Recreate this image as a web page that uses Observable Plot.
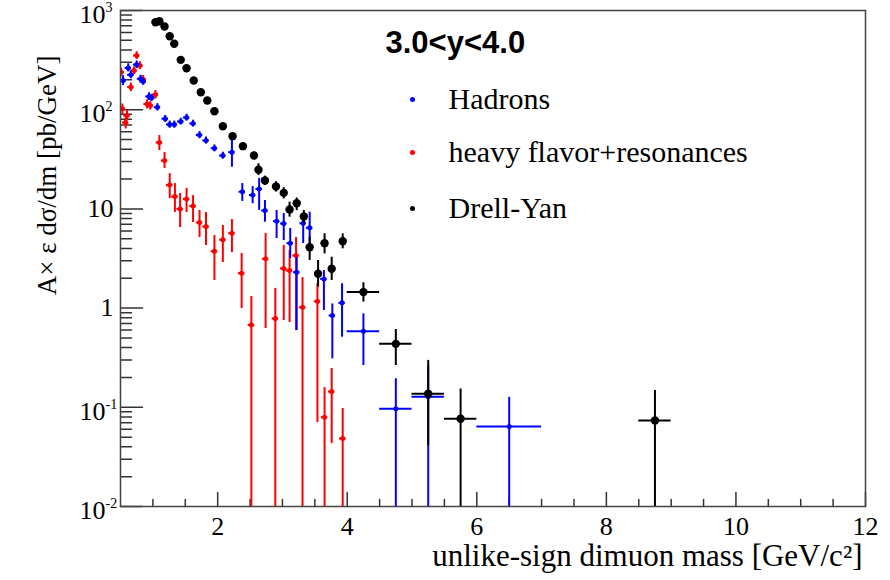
<!DOCTYPE html>
<html><head><meta charset="utf-8">
<script src="https://cdn.jsdelivr.net/npm/d3@7"></script>
<script src="https://cdn.jsdelivr.net/npm/@observablehq/plot@0.6"></script>
<style>body{margin:0;background:#fff}#chart{width:890px;height:580px}</style>
</head><body><div id="chart"></div>
<script>
// ---- data ----
const dyMass = [1.04,1.10,1.18,1.26,1.33,1.43,1.52,1.63,1.74,1.84,1.95,2.08,2.23,2.39,2.56,2.63,2.73,2.90,3.02,3.11,3.22,3.33,3.42,3.55,3.65,3.76,3.93,4.25,4.75,5.25,5.75,8.75];
const dyVal  = [762,780,690,551,462,318,262,197,150,124,96.6,68.2,54.1,42.9,34.5,24.8,19.3,16.8,14.5,9.86,11.4,8.38,4.11,2.22,4.51,2.49,4.72,1.45,0.436,0.137,0.0766,0.0736];
const dyLo   = [740,757,670,535,448,308,253,190,144,118,91.5,64.2,50.6,39.8,31.7,21.7,17.2,14.8,12.6,8.25,9.6,7.08,3.02,1.63,3.52,1.90,3.96,1.15,0.264,0.041,0,0];
const dyHi   = [784,803,710,567,476,328,271,204,156,130,101.7,72.2,57.6,46.0,37.3,28.5,21.4,18.8,16.4,11.7,12.9,9.64,5.19,3.02,5.61,3.26,5.61,1.80,0.608,0.297,0.153,0.148];
const dyHalf = [0.05,0.05,0.05,0.05,0.05,0.05,0.05,0.05,0.05,0.05,0.05,0.05,0.05,0.05,0.05,0.05,0.05,0.05,0.05,0.05,0.05,0.05,0.05,0.05,0.05,0.05,0.05,0.25,0.25,0.25,0.25,0.25];

const hadMass = [0.54,0.62,0.66,0.75,0.81,0.85,0.94,0.98,1.07,1.19,1.26,1.33,1.43,1.52,1.62,1.72,1.82,1.95,2.08,2.22,2.38,2.54,2.64,2.73,2.91,3.02,3.12,3.22,3.32,3.42,3.64,3.77,3.92,4.25,4.75,5.25,6.5];
const hadVal  = [197,264,225,285,205,192,136,132,106,81,70.9,70.9,76,83.4,72.6,55.6,48.9,40.9,34.5,37.3,14.9,13.8,15.9,9.63,7.51,7.12,4.51,2.30,7.17,6.45,1.97,0.842,1.13,0.585,0.0965,0.128,0.064];
const hadLo   = [175,240,205,260,187,176,124,121,97,74.5,65,65,70,76.7,66.8,51,45,37.6,31.7,26.3,11.9,11.3,9.63,7.34,5.03,4.80,3.16,0.594,4.48,4.11,0.946,0.308,0.509,0.264,0,0,0];
const hadHi   = [220,290,245,310,223,208,148,143,115,87.5,76.8,76.8,82,90,78.4,60.2,53,44.2,37.3,48.9,18.0,16.8,20.3,12.15,9.63,8.98,6.34,3.24,8.98,9.26,2.39,1.10,1.76,0.876,0.194,0.26,0.126];
const hadHalf = [0.05,0.05,0.05,0.05,0.05,0.05,0.05,0.05,0.05,0.05,0.05,0.05,0.05,0.05,0.05,0.05,0.05,0.05,0.05,0.05,0.05,0.05,0.05,0.05,0.05,0.05,0.05,0.05,0.05,0.05,0.05,0.05,0.05,0.25,0.25,0.25,0.5];

const hfMass = [0.51,0.53,0.58,0.60,0.66,0.71,0.75,0.80,0.85,0.91,0.96,1.04,1.10,1.18,1.26,1.34,1.42,1.52,1.62,1.72,1.82,1.95,2.08,2.22,2.37,2.52,2.74,2.89,3.02,3.11,3.21,3.31,3.54,3.65,3.76,3.93];
const hfVal  = [239,102,74.3,87.4,169,248,352,279,202,114,110,142,46.7,30.7,17.4,13.3,10.0,12.6,10.7,7.29,6.64,3.75,4.89,5.69,2.25,0.675,3.14,0.785,2.51,2.39,3.39,1.02,1.17,0.0794,0.144,0.0484];
const hfLo   = [215,90,64,77,152,225,320,253,183,102,99,128,38.8,25.5,12.7,9.20,6.49,9.20,7.29,5.15,4.28,1.90,2.88,3.63,0.99,0,0.622,0,0.75,0.716,0.594,0,0.0702,0,0.0431,0];
const hfHi   = [263,114,84,98,186,271,384,305,221,126,121,156,54.9,37.0,22.7,18.0,14.3,16.1,13.6,9.63,9.20,5.39,6.80,7.82,3.55,1.31,5.65,1.58,4.28,3.81,5.15,2.03,1.77,0.158,0.246,0.0972];
const hfHalf = hfMass.map(() => 0.05);

const seriesNames  = ["Hadrons", "heavy flavor+resonances", "Drell-Yan"];
const seriesColors = ["#0000ff", "#ff0000", "#000000"];
const legendTitle  = "3.0<y<4.0";

const yTickValues = [0.01, 0.1, 1, 10, 100, 1000];
const yTickBase   = ["10", "10", "1", "10", "10", "10"];
const yTickExp    = ["-2", "-1", "", "", "2", "3"];
const xTickValues = [2, 4, 6, 8, 10, 12];
const xTickLabels = ["2", "4", "6", "8", "10", "12"];
const xTitle = "unlike-sign dimuon mass [GeV/c²]";
const yTitle = "A× ε dσ/dm [pb/GeV]";

// ---- build tables ----
function table(mass, val, lo, hi, half, name) {
  return mass.map((m, i) => ({m, v: val[i], lo: lo[i], hi: hi[i], h: half[i], name}));
}
const had = table(hadMass, hadVal, hadLo, hadHi, hadHalf, seriesNames[0]);
const hf  = table(hfMass, hfVal, hfLo, hfHi, hfHalf, seriesNames[1]);
const dy  = table(dyMass, dyVal, dyLo, dyHi, dyHalf, seriesNames[2]);

const yMin = 0.01, yMax = 1000, xMin = 0.5, xMax = 12;
const serif = "Liberation Serif, Times New Roman, serif";
const sans = "Liberation Sans, Arial, sans-serif";

const tickShape = {draw(ctx, l) { ctx.moveTo(0, 0); ctx.lineTo(0, -l); }};
const yMinor = [];
for (let e = -2; e < 3; e++) for (let k = 2; k <= 9; k++) yMinor.push(k * 10 ** e);
const xMinor = d3.range(1, 12, 0.5).filter(v => !xTickValues.includes(v));

function seriesMarks(data, color, r) {
  return [
    Plot.ruleX(data, {x: "m", y1: d => d.lo > 0 ? d.lo : yMin, y2: "hi", stroke: color, strokeWidth: 2, clip: true}),
    Plot.ruleY(data, {y: "v", x1: d => d.m - d.h, x2: d => d.m + d.h, stroke: color, strokeWidth: 2, clip: true}),
    Plot.dot(data, {x: "m", y: "v", r, fill: color, clip: true})
  ];
}

const legendMarks = [];
const legendDy = [89, 142, 198];
[0, 1, 2].forEach(i => {
  legendMarks.push(Plot.dot([seriesNames[i]], {frameAnchor: "top-left", dx: 292, dy: legendDy[i], r: 2.5, fill: seriesColors[i]}));
  legendMarks.push(Plot.text([seriesNames[i]], {frameAnchor: "top-left", dx: 328, dy: legendDy[i], text: d => d, textAnchor: "start", lineAnchor: "middle", fontSize: 30, fontFamily: serif, fill: "#000"}));
});

const plot = Plot.plot({
  width: 890, height: 580,
  marginLeft: 120, marginRight: 25, marginTop: 10, marginBottom: 74,
  style: {background: "#fff", overflow: "visible"},
  x: {domain: [xMin, xMax], axis: null},
  y: {type: "log", domain: [yMin, yMax], axis: null},
  marks: [
    // inward ticks
    Plot.vector(yTickValues, {y: d => d, frameAnchor: "left", length: 22, rotate: 90, anchor: "start", shape: tickShape, stroke: "#333", strokeWidth: 1.5}),
    Plot.vector(yMinor, {y: d => d, frameAnchor: "left", length: 11, rotate: 90, anchor: "start", shape: tickShape, stroke: "#333", strokeWidth: 1.5}),
    Plot.vector(xTickValues, {x: d => d, frameAnchor: "bottom", length: 14, rotate: 0, anchor: "start", shape: tickShape, stroke: "#333", strokeWidth: 1.5}),
    Plot.vector(xMinor, {x: d => d, frameAnchor: "bottom", length: 7, rotate: 0, anchor: "start", shape: tickShape, stroke: "#333", strokeWidth: 1.5}),
    ...seriesMarks(hf, seriesColors[1], 2.5),
    ...seriesMarks(had, seriesColors[0], 2.5),
    ...seriesMarks(dy, seriesColors[2], 4.2),
    Plot.frame({stroke: "#444", strokeWidth: 1.5}),
    // tick labels
    Plot.text(yTickValues, {y: d => d, text: (d, i) => yTickBase[i], frameAnchor: "left", dx: -7, textAnchor: "end", lineAnchor: "middle", fontSize: 26, fontFamily: serif, fill: "#000", filter: (d, i) => yTickExp[i] === ""}),
    Plot.text(yTickValues, {y: d => d, text: (d, i) => yTickBase[i], frameAnchor: "left", dx: -15, dy: 4, textAnchor: "end", lineAnchor: "middle", fontSize: 26, fontFamily: serif, fill: "#000", filter: (d, i) => yTickExp[i] !== ""}),
    Plot.text(yTickValues, {y: d => d, text: (d, i) => yTickExp[i], frameAnchor: "left", dx: -15, dy: -3, textAnchor: "start", lineAnchor: "middle", fontSize: 14, fontFamily: serif, fill: "#000", filter: (d, i) => yTickExp[i] !== ""}),
    Plot.text(xTickValues, {x: d => d, text: (d, i) => xTickLabels[i], frameAnchor: "bottom", dy: 20, textAnchor: "middle", lineAnchor: "middle", fontSize: 26, fontFamily: serif, fill: "#000"}),
    // axis titles
    Plot.text([xTitle], {frameAnchor: "bottom-right", dx: -3, dy: 50, text: d => d, textAnchor: "end", lineAnchor: "middle", fontSize: 31, fontFamily: serif, fill: "#000"}),
    Plot.text([yTitle], {frameAnchor: "top-left", dx: -73, dy: 45, rotate: -90, text: d => d, textAnchor: "end", lineAnchor: "middle", fontSize: 27, fontFamily: serif, fill: "#000"}),
    // legend
    Plot.text([legendTitle], {frameAnchor: "top-left", dx: 265, dy: 33, text: d => d, textAnchor: "start", lineAnchor: "middle", fontSize: 31, fontWeight: "bold", fontFamily: sans, fill: "#000"}),
    ...legendMarks
  ]
});
document.getElementById("chart").appendChild(plot);
</script>
</body></html>
